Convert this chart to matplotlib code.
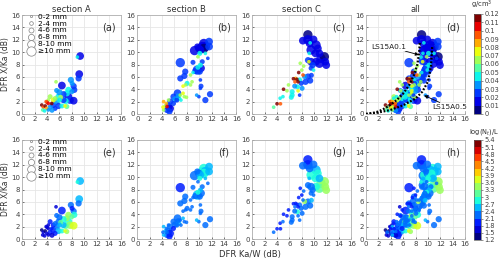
import numpy as np
import matplotlib
matplotlib.use("Agg")
import matplotlib.pyplot as plt
from matplotlib.colors import ListedColormap, BoundaryNorm
from matplotlib.lines import Line2D

# ---------------- data ----------------
secA_x = [9.35, 8.9, 9.2, 9.1, 7.85, 8.05, 8.3, 8.4, 6.4, 5.45, 7.45, 7.2, 6.65, 5.55, 5.85, 6.2,
          7.45, 7.7, 8.3, 7.0, 4.5, 5.0, 4.2, 4.75, 3.15, 3.4, 3.7, 3.95, 3.3, 4.0, 5.0, 5.55,
          5.85, 5.3, 6.4, 4.5, 4.2, 6.65, 6.0, 5.3, 6.9, 7.2, 3.85, 4.2, 4.8, 3.6, 6.0, 8.0]
secA_y = [9.37, 9.2, 6.45, 5.75, 5.5, 4.95, 4.5, 3.9, 4.6, 5.2, 3.9, 3.35, 3.2, 3.8, 2.8, 2.7,
          2.8, 2.25, 2.15, 2.1, 2.8, 2.25, 2.25, 1.7, 1.45, 1.1, 1.3, 0.9, 0.65, 1.9, 1.45, 2.0,
          1.3, 0.9, 1.3, 1.1, 0.65, 2.25, 2.25, 2.5, 1.3, 1.2, 2.0, 1.7, 0.6, 0.5, 3.5, 3.6]
secA_size = [4, 1, 4, 3, 3, 2, 3, 3, 4, 1, 3, 3, 3, 2, 3, 2,
             4, 4, 4, 3, 2, 2, 1, 1, 1, 1, 1, 1, 1, 1, 3, 3,
             3, 2, 2, 2, 1, 3, 2, 2, 1, 2, 1, 1, 2, 1, 3, 2]
secA_rho = [0.015, 0.04, 0.015, 0.02, 0.03, 0.03, 0.02, 0.02, 0.015, 0.065, 0.04, 0.04, 0.02, 0.03, 0.04, 0.06,
            0.015, 0.02, 0.015, 0.04, 0.065, 0.075, 0.06, 0.11, 0.11, 0.09, 0.115, 0.08, 0.055, 0.105, 0.02, 0.03,
            0.02, 0.02, 0.04, 0.035, 0.03, 0.02, 0.045, 0.06, 0.07, 0.055, 0.095, 0.105, 0.03, 0.045, 0.035, 0.03]
secA_nt = [2.6, 2.8, 2.5, 2.3, 2.1, 2.0, 2.2, 2.7, 2.0, 1.6, 3.3, 3.5, 2.8, 2.1, 2.3, 3.0,
           2.9, 3.4, 3.6, 3.2, 2.0, 1.9, 1.5, 1.8, 1.4, 1.5, 1.4, 1.6, 1.5, 1.6, 2.0, 2.2,
           2.4, 1.9, 2.9, 1.8, 1.5, 2.5, 2.6, 2.2, 3.6, 3.3, 1.6, 1.7, 1.7, 1.5, 2.3, 3.0]

secB_x = [11.6, 10.75, 10.5, 11.0, 11.6, 9.95, 9.25, 10.2, 10.75, 9.7, 11.0, 11.4, 10.1, 6.95, 9.0, 10.5,
          9.8, 9.7, 10.3, 10.2, 9.8, 10.1, 9.4, 9.0, 7.75, 7.6, 6.95, 8.6, 8.05, 7.8, 8.6, 7.4,
          8.85, 10.2, 10.3, 9.95, 9.6, 11.0, 11.75, 10.2, 6.5, 5.85, 6.1, 5.3, 5.05, 5.3, 4.8, 5.2,
          4.5, 4.25, 4.7, 5.05, 4.8, 6.7, 6.95, 7.4, 7.6, 7.95, 6.4, 7.05, 5.85, 4.25, 4.15, 6.6]
secB_y = [11.7, 11.4, 10.9, 10.9, 10.9, 10.6, 10.25, 10.35, 10.6, 10.9, 9.8, 9.0, 9.8, 8.3, 8.35, 8.45,
          9.25, 7.1, 7.4, 7.9, 7.55, 6.85, 6.95, 6.7, 6.85, 6.15, 5.75, 6.3, 4.95, 4.7, 4.7, 4.5,
          5.2, 5.5, 4.5, 2.8, 3.05, 2.25, 3.2, 4.15, 3.35, 2.8, 2.35, 2.0, 1.2, 0.9, 0.65, 0.4,
          1.3, 2.0, 1.7, 2.25, 1.2, 2.55, 3.05, 3.35, 2.8, 2.7, 2.25, 2.25, 1.7, 0.65, 1.1, 2.95]
secB_size = [4, 5, 5, 5, 4, 4, 5, 4, 5, 3, 1, 1, 2, 5, 2, 2,
             1, 5, 4, 2, 2, 3, 3, 1, 3, 3, 3, 1, 2, 1, 1, 1,
             1, 1, 2, 1, 1, 3, 3, 1, 4, 3, 3, 3, 4, 4, 3, 3,
             1, 1, 1, 1, 1, 2, 1, 1, 1, 1, 2, 1, 2, 1, 1, 2]
secB_rho = [0.02, 0.015, 0.01, 0.015, 0.02, 0.015, 0.015, 0.01, 0.005, 0.015, 0.04, 0.02, 0.045, 0.02, 0.02, 0.025,
            0.06, 0.02, 0.015, 0.045, 0.04, 0.02, 0.02, 0.045, 0.02, 0.025, 0.025, 0.06, 0.045, 0.06, 0.065, 0.075,
            0.06, 0.02, 0.025, 0.02, 0.035, 0.02, 0.02, 0.025, 0.02, 0.025, 0.03, 0.02, 0.02, 0.015, 0.025, 0.02,
            0.06, 0.08, 0.08, 0.065, 0.1, 0.04, 0.065, 0.075, 0.06, 0.065, 0.02, 0.045, 0.02, 0.06, 0.075, 0.03]
secB_nt = [2.4, 2.8, 2.9, 2.6, 2.5, 2.3, 2.2, 2.4, 2.7, 2.2, 2.6, 2.2, 2.7, 1.9, 2.1, 2.2,
           2.3, 2.6, 2.3, 2.4, 2.7, 2.2, 2.1, 2.3, 2.1, 2.2, 2.1, 2.2, 2.3, 2.2, 2.3, 2.2,
           2.3, 2.2, 2.3, 2.1, 2.6, 2.1, 2.2, 2.3, 2.2, 2.3, 2.2, 2.1, 2.2, 2.0, 2.1, 2.0,
           2.6, 2.5, 2.3, 2.3, 2.1, 2.4, 2.3, 2.4, 2.1, 2.2, 2.1, 2.2, 2.0, 2.4, 2.2, 2.3]

secC_x = [8.98, 8.98, 8.17, 9.9, 9.25, 10.3, 10.6, 9.5, 10.2, 10.85, 11.1, 11.65, 11.8, 11.95, 10.85, 10.3,
          9.5, 9.0, 9.5, 9.9, 9.75, 9.2, 9.35, 9.15, 7.75, 8.3, 8.0, 7.5, 8.2, 7.0, 6.65, 7.2,
          6.9, 7.4, 7.65, 8.45, 9.0, 9.55, 9.35, 8.6, 7.9, 7.3, 8.05, 6.85, 7.4, 6.45, 6.45, 6.3,
          7.65, 5.6, 5.85, 5.05, 4.5, 4.95, 4.0, 4.55, 3.45]
secC_y = [12.8, 12.0, 11.85, 12.05, 11.4, 11.15, 10.6, 10.35, 9.8, 9.8, 9.0, 9.25, 8.45, 7.9, 8.2, 8.45,
          8.45, 8.7, 7.4, 7.1, 7.9, 9.8, 11.5, 8.45, 8.2, 7.75, 7.1, 6.7, 6.3, 5.75, 5.7, 5.6,
          5.2, 5.2, 5.5, 6.05, 6.05, 6.25, 5.4, 5.2, 4.95, 4.4, 4.15, 4.5, 3.75, 3.6, 3.05, 2.7,
          3.05, 3.75, 4.7, 4.0, 2.55, 2.8, 1.65, 1.65, 1.1]
secC_size = [5, 5, 4, 4, 4, 5, 4, 5, 4, 4, 5, 5, 4, 4, 5, 4,
             4, 3, 2, 1, 3, 1, 1, 1, 1, 1, 1, 1, 1, 1, 1, 1,
             1, 1, 2, 2, 3, 2, 3, 3, 2, 2, 2, 2, 1, 2, 2, 2,
             1, 1, 1, 1, 1, 1, 1, 1, 1]
secC_rho = [0.005, 0.01, 0.015, 0.01, 0.01, 0.01, 0.015, 0.015, 0.01, 0.01, 0.01, 0.005, 0.01, 0.01, 0.01, 0.015,
            0.015, 0.02, 0.02, 0.045, 0.02, 0.04, 0.045, 0.075, 0.06, 0.065, 0.06, 0.11, 0.09, 0.08, 0.11, 0.115,
            0.09, 0.11, 0.045, 0.035, 0.02, 0.02, 0.02, 0.02, 0.025, 0.045, 0.035, 0.035, 0.075, 0.045, 0.045, 0.045,
            0.02, 0.06, 0.06, 0.12, 0.045, 0.045, 0.11, 0.09, 0.055]
secC_nt = [2.0, 1.9, 2.3, 2.2, 2.3, 2.5, 2.7, 2.8, 2.9, 2.6, 3.1, 3.3, 3.4, 3.3, 3.2, 2.9,
           2.3, 2.2, 2.2, 2.3, 2.1, 2.6, 2.1, 2.2, 2.0, 2.1, 2.0, 2.0, 2.2, 1.9, 2.0, 1.9,
           2.1, 2.0, 2.3, 3.3, 2.3, 2.4, 2.3, 2.2, 2.1, 2.7, 2.3, 2.2, 2.3, 2.1, 2.2, 2.1,
           2.3, 1.9, 2.0, 1.9, 2.0, 2.1, 2.0, 2.0, 2.1]

# model curves shown in panel (d)
ls01_x = [0, 1, 2, 3, 4, 5, 6, 7, 7.8, 8.3, 8.6, 8.7]
ls01_y = [0, 0.15, 0.4, 0.9, 1.5, 2.3, 3.3, 4.7, 6.4, 8.0, 10.0, 11.7]
ls05_x = [0, 1.8, 3.95, 6.1, 8.0, 9.1, 10.0, 10.5, 10.7]
ls05_y = [0, 0.2, 0.65, 1.45, 2.5, 3.6, 5.2, 7.65, 10.9]

size_labels = ["0-2 mm", "2-4 mm", "4-6 mm", "6-8 mm", "8-10 mm", "\u226510 mm"]
section_titles = ["section A", "section B", "section C", "all"]
panel_top = ["(a)", "(b)", "(c)", "(d)"]
panel_bot = ["(e)", "(f)", "(g)", "(h)"]
rho_ticks = [0, 0.01, 0.02, 0.03, 0.04, 0.05, 0.06, 0.07, 0.08, 0.09, 0.1, 0.11, 0.12]
nt_ticks = [1.2, 1.5, 1.8, 2.1, 2.4, 2.7, 3, 3.3, 3.6, 3.9, 4.2, 4.5, 4.8, 5.1, 5.4]

# ---------------- styling ----------------
marker_area = [2.5, 7.0, 13.0, 20.0, 31.0, 45.0]
cmap_rho = ListedColormap(plt.get_cmap('jet')(np.linspace(0, 1, 12)))
norm_rho = BoundaryNorm(rho_ticks, 12)
cmap_nt = ListedColormap(plt.get_cmap('jet')(np.linspace(0, 1, 14)))
norm_nt = BoundaryNorm(nt_ticks, 14)

W, H = 500, 265
fig = plt.figure(figsize=(5, 2.65), dpi=100)
lefts = [22.3, 137.3, 252.3, 366.0]
tops = [15, 140]
pw, ph = 99, 99

sections = [
    (secA_x, secA_y, secA_size, secA_rho, secA_nt),
    (secB_x, secB_y, secB_size, secB_rho, secB_nt),
    (secC_x, secC_y, secC_size, secC_rho, secC_nt),
]
allx = secA_x + secB_x + secC_x
ally = secA_y + secB_y + secC_y
alls = secA_size + secB_size + secC_size
allr = secA_rho + secB_rho + secC_rho
alln = secA_nt + secB_nt + secC_nt
sections.append((allx, ally, alls, allr, alln))

tick_col = '#404040'


def style_ax(ax):
    ax.set_xlim(0, 16)
    ax.set_ylim(0, 16)
    ax.set_xticks(range(0, 17, 2))
    ax.set_yticks(range(0, 17, 2))
    ax.grid(True, color='#e6e6e6', lw=0.6)
    ax.set_axisbelow(True)
    for s in ax.spines.values():
        s.set_color('#b0b0b0')
        s.set_linewidth(0.6)
    ax.tick_params(labelsize=5, colors=tick_col, length=1.5, width=0.5, pad=1.5, direction='in')


def scatter(ax, x, y, sz, c, cmap, norm):
    x = np.asarray(x); y = np.asarray(y); sz = np.asarray(sz); c = np.asarray(c)
    order = np.argsort(-sz, kind='stable')
    ax.scatter(x[order], y[order], s=np.array(marker_area)[sz[order]], c=c[order],
               cmap=cmap, norm=norm, alpha=0.85, linewidths=0, zorder=3)


def add_legend(ax):
    handles = [Line2D([], [], ls='none', marker='o', markersize=np.sqrt(a), markerfacecolor='white',
                      markeredgecolor='#808080', markeredgewidth=0.5) for a in marker_area]
    ax.legend(handles, size_labels, loc='upper left', bbox_to_anchor=(0.035, 1.03), frameon=False,
              fontsize=5.3, labelspacing=0.1, handlelength=1.0, handletextpad=0.5,
              borderpad=0.1, borderaxespad=0.1)


axes_top, axes_bot = [], []
for row in range(2):
    for col in range(4):
        l = lefts[col] / W
        b = 1 - (tops[row] + ph) / H
        ax = fig.add_axes([l, b, pw / W, ph / H])
        style_ax(ax)
        x, y, sz, rho, nt = sections[col]
        if row == 0:
            scatter(ax, x, y, sz, rho, cmap_rho, norm_rho)
            ax.set_title(section_titles[col], fontsize=6, color='#303030', pad=2.5)
            lab = panel_top[col]
            axes_top.append(ax)
        else:
            scatter(ax, x, y, sz, nt, cmap_nt, norm_nt)
            lab = panel_bot[col]
            axes_bot.append(ax)
        ax.text(14.0, 14.0, lab, fontsize=7, ha='center', va='center', color='#303030', zorder=5)
        if col == 0:
            ax.set_ylabel("DFR X/Ka (dB)", fontsize=5.5, color='#303030', labelpad=1)
            add_legend(ax)

# model curves + annotations in panel (d)
axd = axes_top[3]
axd.plot(ls01_x, ls01_y, color='black', lw=1.6, ls=(0, (0.8, 0.8)), zorder=4)
axd.plot(ls05_x, ls05_y, color='black', lw=1.6, ls=(0, (0.8, 0.8)), zorder=4)
axd.annotate("LS15A0.1", xy=(8.55, 9.55), xytext=(3.7, 10.9), fontsize=5.3, ha='center', va='center',
             color='#202020', zorder=6,
             bbox=dict(boxstyle='square,pad=0.15', fc='white', ec='none'),
             arrowprops=dict(arrowstyle='-|>', color='black', lw=0.6, mutation_scale=5, shrinkA=1, shrinkB=0))
axd.annotate("LS15A0.5", xy=(9.4, 3.0), xytext=(13.6, 1.1), fontsize=5.3, ha='center', va='center',
             color='#202020', zorder=6,
             bbox=dict(boxstyle='square,pad=0.15', fc='white', ec='none'),
             arrowprops=dict(arrowstyle='-|>', color='black', lw=0.6, mutation_scale=5, shrinkA=1, shrinkB=0))

# colorbars
cax1 = fig.add_axes([474 / W, 1 - 114 / H, 7 / W, 100 / H])
sm1 = plt.cm.ScalarMappable(norm=norm_rho, cmap=cmap_rho)
cb1 = fig.colorbar(sm1, cax=cax1, ticks=rho_ticks)
cb1.ax.set_yticklabels([f"{t:g}" for t in rho_ticks])
cax2 = fig.add_axes([474 / W, 1 - 240 / H, 7 / W, 100 / H])
sm2 = plt.cm.ScalarMappable(norm=norm_nt, cmap=cmap_nt)
cb2 = fig.colorbar(sm2, cax=cax2, ticks=nt_ticks)
cb2.ax.set_yticklabels([f"{t:g}" for t in nt_ticks])
for cb in (cb1, cb2):
    cb.ax.tick_params(labelsize=4.8, colors=tick_col, length=1.5, width=0.4, pad=1)
    cb.outline.set_linewidth(0.5)
    cb.outline.set_edgecolor('#606060')

fig.text(482 / W, 1 - 5 / H, "g/cm$^3$", fontsize=4.8, ha='center', va='center', color='#303030')
fig.text(484 / W, 1 - 132 / H, "log(N$_t$)/L", fontsize=4.8, ha='center', va='center', color='#303030')
fig.text(250 / W, 1 - 254 / H, "DFR Ka/W (dB)", fontsize=6, ha='center', va='center', color='#303030')

fig.savefig("out.png", dpi=100)
